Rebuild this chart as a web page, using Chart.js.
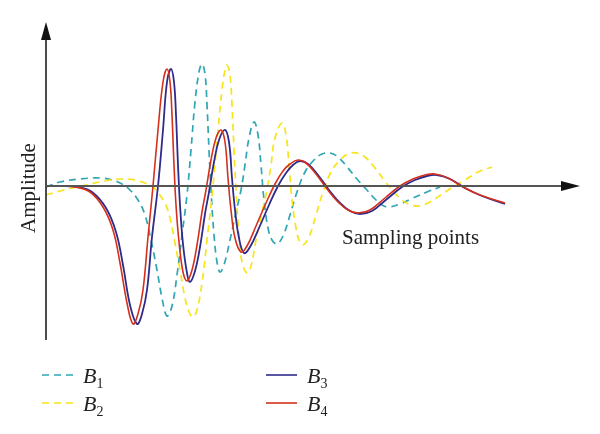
<!DOCTYPE html>
<html lang="en">

<head>
  <meta charset="UTF-8">
  <title>Amplitude vs sampling points</title>
  <script src="https://cdn.jsdelivr.net/npm/chart.js"></script>
  <style>
    body { margin: 0; background: #fff; }
  </style>
</head>

<body>
  <canvas id="grafico" width="600" height="434"></canvas>

<script>
  // x = sampling point, y = amplitude
  const b1 = [[0,-1],[14,4],[34,7],[54,8],[66,6],[76,2],[84,-4],[92,-14],[99,-29],[105,-54],[111,-84],[116,-112],[121,-130],[126,-120],[131,-89],[136,-49],[141,-9],[145,36],[149,84],[153,114],[156,122],[159,112],[161,81],[163,36],[165,-4],[168,-49],[171,-76],[174,-86],[178,-79],[184,-54],[190,-26],[195,-4],[199,21],[203,48],[208,64],[212,51],[215,21],[218,-14],[222,-42],[226,-54],[231,-58],[237,-50],[244,-29],[251,-6],[259,14],[268,26],[276,32],[284,33],[292,29],[302,18],[311,7],[320,-3],[329,-13],[336,-19],[342,-21],[354,-18],[367,-12],[381,-6],[394,-1]];

  const b2 = [[0,-9],[14,-5],[31,-1],[49,3],[64,6],[77,7],[89,6],[99,3],[106,0],[113,-8],[119,-17],[124,-32],[129,-57],[134,-84],[139,-112],[143,-126],[147,-131],[151,-124],[156,-97],[161,-54],[167,0],[172,56],[176,96],[179,116],[181,121],[184,111],[186,81],[188,36],[190,-4],[193,-49],[196,-76],[201,-87],[205,-80],[210,-54],[216,-26],[221,-4],[225,21],[229,48],[236,63],[240,51],[243,21],[246,-14],[250,-42],[253,-54],[257,-59],[263,-51],[270,-29],[277,-6],[285,14],[294,26],[302,32],[311,33],[319,29],[329,18],[338,6],[347,-5],[356,-14],[365,-19],[374,-20],[384,-16],[395,-9],[407,-1],[419,6],[432,14],[446,19]];

  const b3 = [[0,0],[18,0],[32,-1],[46,-6],[60,-22],[70,-46],[77,-79],[84,-119],[91,-138],[96,-128],[101,-104],[106,-51],[112,0],[117,56],[121,104],[125,117],[128,104],[130,71],[132,21],[134,-19],[137,-58],[141,-87],[144,-96],[149,-85],[154,-61],[159,-28],[163,-6],[168,24],[173,46],[179,56],[183,44],[186,8],[189,-24],[193,-52],[198,-67],[204,-61],[213,-42],[223,-19],[232,0],[240,13],[247,21],[254,25],[262,22],[272,11],[283,-4],[294,-17],[304,-25],[314,-28],[326,-25],[341,-13],[356,-1],[369,6],[381,10],[391,11],[404,7],[419,-2],[436,-10],[459,-18]];

  const b4 = [[0,0],[16,0],[29,-1],[44,-6],[57,-21],[67,-44],[74,-77],[81,-117],[87,-138],[92,-128],[97,-104],[102,-51],[107,0],[112,56],[117,104],[121,117],[124,104],[126,71],[128,21],[130,-19],[133,-56],[137,-86],[141,-95],[146,-84],[151,-59],[156,-26],[160,-4],[165,26],[170,48],[175,56],[179,44],[182,8],[185,-24],[189,-52],[195,-66],[201,-60],[210,-40],[220,-17],[229,2],[237,15],[244,22],[252,26],[260,23],[270,12],[281,-3],[292,-16],[302,-24],[312,-27],[324,-24],[339,-12],[354,0],[367,7],[379,11],[389,12],[402,8],[417,-1],[434,-9],[459,-17]];

  const nomes = ['B', 'B', 'B', 'B'];
  const indices = ['1', '2', '3', '4'];
  const cores = ['#2FA6B3', '#F7E41A', '#2E2B8C', '#D5301C'];

  function pontos(serie) {
    return serie.map(p => ({ x: p[0], y: p[1] }));
  }

  // eixos com setas, rótulos e legenda
  const eixos = {
    id: 'eixos',
    afterDatasetsDraw(chart) {
      const ctx = chart.ctx;
      const xs = chart.scales.x;
      const ys = chart.scales.y;
      const x0 = xs.getPixelForValue(0);
      const y0 = ys.getPixelForValue(0);
      const topo = chart.chartArea.top;
      const base = chart.chartArea.bottom;
      const dir = chart.chartArea.right;

      ctx.save();
      // eixo vertical
      ctx.strokeStyle = '#111';
      ctx.lineWidth = 1.5;
      ctx.beginPath();
      ctx.moveTo(x0, base);
      ctx.lineTo(x0, topo + 14);
      ctx.stroke();
      ctx.fillStyle = '#111';
      ctx.beginPath();
      ctx.moveTo(x0, topo);
      ctx.lineTo(x0 - 5, topo + 18);
      ctx.lineTo(x0 + 5, topo + 18);
      ctx.closePath();
      ctx.fill();

      // eixo horizontal
      ctx.strokeStyle = '#555';
      ctx.lineWidth = 2;
      ctx.beginPath();
      ctx.moveTo(x0, y0);
      ctx.lineTo(dir - 14, y0);
      ctx.stroke();
      ctx.fillStyle = '#111';
      ctx.beginPath();
      ctx.moveTo(dir, y0);
      ctx.lineTo(dir - 19, y0 - 5);
      ctx.lineTo(dir - 19, y0 + 5);
      ctx.closePath();
      ctx.fill();

      // títulos
      ctx.fillStyle = '#222';
      ctx.font = '21px "Liberation Serif", serif';
      ctx.textAlign = 'center';
      ctx.textBaseline = 'middle';
      ctx.save();
      ctx.translate(29, 188);
      ctx.rotate(-Math.PI / 2);
      ctx.fillText('Amplitude', 0, 0);
      ctx.restore();
      ctx.textAlign = 'left';
      ctx.fillText('Sampling points', 342, 238);

      // legenda
      const posicoes = [[42, 375], [42, 403], [266, 375], [266, 403]];
      chart.data.datasets.forEach((ds, i) => {
        const [lx, ly] = posicoes[i];
        ctx.strokeStyle = ds.borderColor;
        ctx.lineWidth = 1.6;
        ctx.setLineDash(ds.borderDash || []);
        ctx.beginPath();
        ctx.moveTo(lx, ly);
        ctx.lineTo(lx + 31, ly);
        ctx.stroke();
        ctx.setLineDash([]);
        ctx.fillStyle = '#222';
        ctx.textBaseline = 'alphabetic';
        ctx.font = 'italic 22px "Liberation Serif", serif';
        ctx.fillText(nomes[i], lx + 41, ly + 8);
        const w = ctx.measureText(nomes[i]).width;
        ctx.font = '14px "Liberation Serif", serif';
        ctx.fillText(indices[i], lx + 41 + w, ly + 13);
      });
      ctx.restore();
    }
  };

  const config = {
    type: 'line',
    data: {
      datasets: [
        { label: 'B1', data: pontos(b1), borderColor: cores[0], borderWidth: 1.7, borderDash: [7, 5], order: 4 },
        { label: 'B2', data: pontos(b2), borderColor: cores[1], borderWidth: 1.7, borderDash: [7, 5], order: 3 },
        { label: 'B3', data: pontos(b3), borderColor: cores[2], borderWidth: 1.8, order: 2 },
        { label: 'B4', data: pontos(b4), borderColor: cores[3], borderWidth: 1.6, order: 1 }
      ]
    },
    options: {
      responsive: false,
      animation: false,
      devicePixelRatio: 1,
      layout: { padding: { left: 46, right: 20, top: 22, bottom: 94 } },
      elements: {
        point: { radius: 0 },
        line: { tension: 0.4, fill: false, capBezierPoints: false }
      },
      scales: {
        x: { type: 'linear', min: 0, max: 534, display: false },
        y: { min: -154, max: 164, display: false }
      },
      plugins: {
        legend: { display: false },
        tooltip: { enabled: false }
      }
    },
    plugins: [eixos]
  };

  const myChart = new Chart(document.getElementById('grafico'), config);
</script>
</body>

</html>
